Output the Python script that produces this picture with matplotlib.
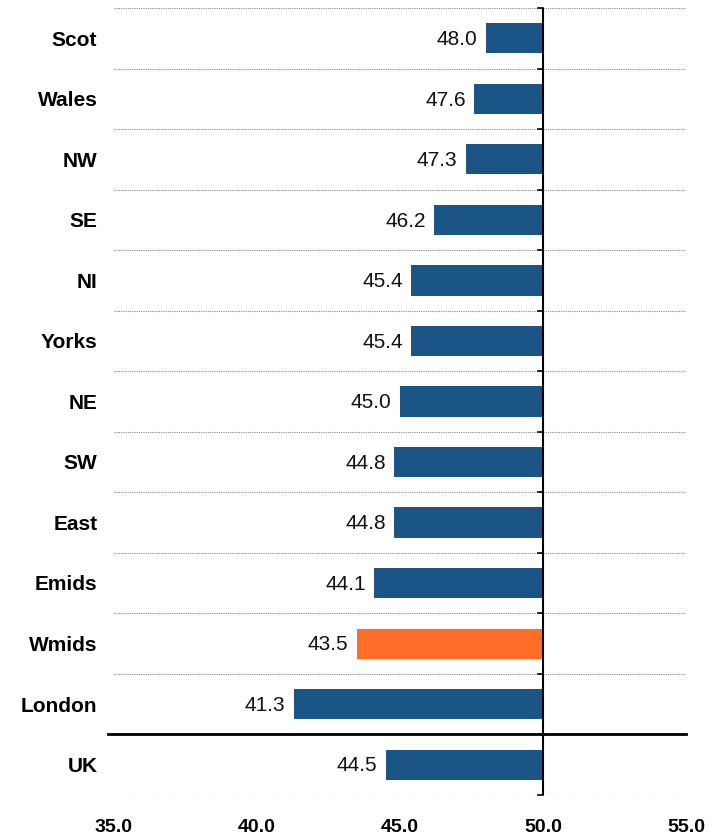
import matplotlib
matplotlib.use("Agg")
import matplotlib.pyplot as plt
import numpy as np

categories = ["Scot", "Wales", "NW", "SE", "NI", "Yorks", "NE", "SW", "East", "Emids", "Wmids", "London", "UK"]
values = [48.0, 47.6, 47.3, 46.2, 45.4, 45.4, 45.0, 44.8, 44.8, 44.1, 43.5, 41.3, 44.5]
highlight = "Wmids"
base = 50.0
xticks = [35.0, 40.0, 45.0, 50.0, 55.0]

plt.rcParams['font.family'] = ['Liberation Sans', 'DejaVu Sans']

fig = plt.figure(figsize=(7.27, 8.38), dpi=100)
ax = fig.add_axes([114/727, 1-795/838, (686-114)/727, (795-8)/838])

n = len(categories)
y = np.arange(n)
colors = ["#FF6D26" if c == highlight else "#1A5586" for c in categories]
widths = [v - base for v in values]
ax.barh(y, widths, left=base, height=0.5, color=colors, zorder=3)

for yi, v in zip(y, values):
    ax.text(v - 0.3, yi + 0.02, f"{v:.1f}", ha="right", va="center", fontsize=15, color="#111111", zorder=4)

ax.set_xlim(35, 55)
ax.set_ylim(n - 0.5, -0.5)

# dotted gridlines at category boundaries
for b in np.arange(-0.5, n, 1.0):
    ax.axhline(b, color="#888888", lw=0.8, ls=(0, (1, 1)), zorder=1)
    ax.plot([49.83, 50], [b, b], color="black", lw=1.2, zorder=5, clip_on=False)

# thick separator above UK
ax.plot([34.8, 55], [n - 1.5, n - 1.5], color="black", lw=2, zorder=5, clip_on=False)
# vertical axis at 50
ax.axvline(base, color="black", lw=1.5, zorder=5)

for s in ax.spines.values():
    s.set_visible(False)
ax.set_yticks([])
ax.set_xticks(xticks)
ax.set_xticklabels([f"{t:.1f}" for t in xticks], fontsize=14, fontweight="bold")
ax.tick_params(axis="x", length=0, pad=17)

for yi, c in zip(y, categories):
    ax.text(-0.029, yi + 0.03, c, transform=ax.get_yaxis_transform(), ha="right", va="center",
            fontsize=15, fontweight="bold")

fig.savefig("out.png", dpi=100)
